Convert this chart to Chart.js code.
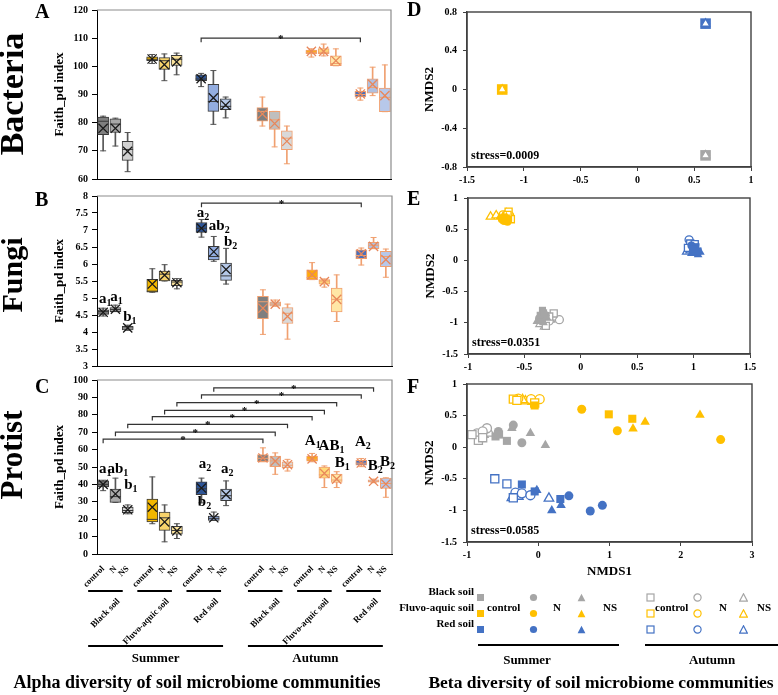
<!DOCTYPE html>
<html>
<head>
<meta charset="utf-8">
<script src="https://cdn.jsdelivr.net/npm/chart.js@4.4.1/dist/chart.umd.min.js"></script>
<style>
  body { margin: 0; background: #fff; }
  #fig { position: relative; width: 778px; height: 695px; overflow: hidden;
         font-family: 'Liberation Serif', 'Times New Roman', serif; font-weight: bold; color: #000; }
  #fig canvas { position: absolute; }
  .txt { position: absolute; white-space: nowrap; line-height: 1; }
  .rot { position: absolute; white-space: nowrap; text-align: center; transform: rotate(-90deg); }
  .mk { position: absolute; width: 9px; height: 9px; }
  .hl { position: absolute; height: 2px; background: #000; }
</style>
</head>
<body>
<div id="fig">
  <canvas id="chartA" width="400" height="190" style="left:0;top:0"></canvas>
  <canvas id="chartB" width="400" height="190" style="left:0;top:186px"></canvas>
  <canvas id="chartC" width="400" height="325" style="left:0;top:370px"></canvas>
  <canvas id="chartD" width="388" height="190" style="left:390px;top:0"></canvas>
  <canvas id="chartE" width="388" height="190" style="left:390px;top:186px"></canvas>
  <canvas id="chartF" width="388" height="213" style="left:390px;top:372px"></canvas>

  <div class="rot" style="left:-88px;top:74px;width:200px;height:40px;line-height:40px;font-size:34px">Bacteria</div>
  <div class="rot" style="left:-88px;top:255px;width:200px;height:40px;line-height:40px;font-size:30px">Fungi</div>
  <div class="rot" style="left:-88px;top:435px;width:200px;height:40px;line-height:40px;font-size:31px">Protist</div>

  <div class="txt" style="left:35px;top:1px;font-size:20px">A</div>
  <div class="txt" style="left:35px;top:189px;font-size:20px">B</div>
  <div class="txt" style="left:35px;top:376px;font-size:20px">C</div>
  <div class="txt" style="left:407px;top:-1px;font-size:20px">D</div>
  <div class="txt" style="left:407px;top:188px;font-size:20px">E</div>
  <div class="txt" style="left:407px;top:376px;font-size:20px">F</div>

  <div id="legend"></div>
  <div class="hl" style="left:478px;top:644px;width:141px"></div>
  <div class="hl" style="left:645px;top:644px;width:133px"></div>
  <div class="txt" style="left:527px;top:653px;font-size:13px;transform:translateX(-50%)">Summer</div>
  <div class="txt" style="left:712px;top:653px;font-size:13px;transform:translateX(-50%)">Autumn</div>
  <div class="txt" style="left:601px;top:674px;font-size:17.5px;transform:translateX(-50%)">Beta diversity of soil microbiome communities</div>
</div>
<script>
'use strict';

// Categories
const seasons = ['Summer', 'Autumn'];
const soils = ['Black soil', 'Fluvo-aquic soil', 'Red soil'];
const treatments = ['control', 'N', 'NS'];

// Box plot values, 18 boxes: Summer black control/N/NS, fluvo-aquic, red, then Autumn in the same order
const bacMin  = [70.0, 71.7, 62.6, 101.0, 94.9, 97.0, 92.8, 79.4, 81.7, 78.8, 71.4, 65.4, 103.3, 103.7, 100.2, 88.0, 89.6, 83.9];
const bacQ1   = [75.7, 76.5, 66.6, 102.0, 98.9, 100.3, 94.9, 84.0, 84.6, 80.5, 77.6, 70.4, 104.5, 104.5, 100.2, 89.1, 90.5, 83.9];
const bacMed  = [80.5, 79.5, 70.5, 102.5, 102.0, 102.5, 95.5, 87.5, 85.8, 84.0, 81.0, 74.5, 105.0, 105.0, 101.0, 90.0, 92.5, 89.0];
const bacQ3   = [82.0, 81.4, 73.4, 103.4, 103.1, 103.9, 97.0, 93.6, 88.5, 85.4, 84.0, 77.1, 105.8, 106.3, 103.7, 91.1, 95.6, 92.3];
const bacMax  = [82.3, 81.6, 76.5, 104.2, 104.4, 104.7, 97.5, 98.5, 89.1, 89.1, 84.0, 78.8, 106.2, 107.9, 106.2, 92.3, 99.7, 100.5];
const bacMean = [78.0, 78.0, 69.8, 102.6, 100.6, 101.6, 95.6, 88.8, 86.2, 83.1, 79.7, 73.4, 105.3, 105.3, 102.0, 90.2, 93.6, 89.6];

const funMin  = [4.47, 4.60, 4.05, 5.17, 5.50, 5.27, 6.79, 6.08, 5.41, 3.93, 4.76, 3.79, 5.54, 5.32, 4.31, 5.97, 6.45, 5.61];
const funQ1   = [4.52, 4.60, 4.06, 5.17, 5.50, 5.36, 6.93, 6.12, 5.52, 4.39, 4.76, 4.25, 5.54, 5.41, 4.59, 6.16, 6.45, 5.92];
const funMed  = [4.60, 4.66, 4.12, 5.20, 5.70, 5.47, 7.05, 6.22, 5.65, 4.89, 4.82, 4.55, 5.60, 5.50, 4.96, 6.25, 6.55, 6.22];
const funQ3   = [4.65, 4.72, 4.17, 5.55, 5.79, 5.52, 7.22, 6.52, 6.03, 5.05, 4.89, 4.72, 5.83, 5.54, 5.29, 6.42, 6.64, 6.37];
const funMax  = [4.70, 4.79, 4.20, 5.86, 5.98, 5.57, 7.31, 6.81, 6.46, 5.24, 4.94, 4.82, 6.04, 5.56, 5.68, 6.47, 6.78, 6.44];
const funMean = [4.58, 4.67, 4.12, 5.41, 5.67, 5.45, 7.05, 6.36, 5.84, 4.70, 4.82, 4.46, 5.69, 5.48, 4.96, 6.30, 6.52, 6.13];

const proMin  = [36.4, 29.7, 23.1, 17.4, 7.0, 8.9, 29.4, 19.3, 27.8, 53.0, 45.8, 47.7, 53.0, 38.2, 38.2, 50.2, 41.0, 32.6];
const proQ1   = [38.6, 29.7, 23.7, 18.4, 13.6, 11.4, 34.1, 19.3, 30.7, 53.0, 50.2, 49.6, 53.4, 43.6, 41.1, 51.0, 41.3, 37.7];
const proMed  = [40.0, 33.0, 25.0, 19.9, 20.8, 13.5, 37.5, 20.5, 33.5, 55.0, 53.5, 51.0, 54.5, 45.5, 42.5, 52.2, 41.8, 40.5];
const proQ3   = [42.0, 37.3, 26.9, 31.6, 24.1, 15.9, 41.5, 21.8, 37.3, 57.2, 56.3, 53.0, 56.3, 50.0, 45.9, 53.8, 42.6, 43.6];
const proMax  = [42.4, 43.6, 28.2, 44.3, 28.2, 17.4, 43.6, 24.1, 42.0, 61.0, 58.1, 54.4, 57.8, 50.6, 47.3, 54.9, 43.0, 43.8];
const proMean = [40.0, 34.5, 25.4, 26.9, 18.4, 13.3, 37.9, 20.8, 34.1, 55.2, 53.4, 51.3, 54.7, 46.4, 43.0, 52.3, 41.8, 40.2];

// Significance brackets: [from box, to box, height]
const bacBrackets = [[6, 15, 110]];
const funBrackets = [[6, 15, 7.79]];
const proBrackets = [[0, 9, 66], [1, 10, 70], [2, 11, 74.5], [3, 12, 79], [4, 13, 82.5], [5, 14, 87], [6, 15, 91.5], [7, 16, 95.5]];

// Letters: [letter, subscript, box, offset in slots, baseline value]
const funLetters = [['a', '1', 0, -0.34, 4.84], ['a', '1', 1, -0.43, 4.90], ['b', '1', 2, -0.37, 4.31],
  ['a', '2', 6, -0.39, 7.38], ['ab', '2', 6, 0.6, 6.99], ['b', '2', 8, -0.17, 6.52]];
const proLetters = [['a', '1', 0, -0.34, 46.8], ['ab', '1', 0, 0.35, 46.8], ['b', '1', 2, -0.29, 37.3],
  ['a', '2', 6, -0.22, 49.2], ['b', '2', 6, -0.3, 27.8], ['a', '2', 8, -0.42, 46.8],
  ['A', '1', 12, -0.59, 62.5], ['AB', '1', 12, 0.53, 60], ['B', '1', 14, -0.16, 50],
  ['A', '2', 15, -0.52, 62.3], ['B', '2', 16, -0.48, 48.1], ['B', '2', 17, -0.47, 50.6]];

// NMDS scores: [NMDS1, NMDS2, group] group 0-2 summer control/N/NS, 3-5 autumn control/N/NS
const bacBlack = [[0.60, -0.68, 0], [0.60, -0.68, 1], [0.60, -0.68, 2], [0.60, -0.68, 3], [0.60, -0.68, 4], [0.60, -0.68, 5]];
const bacFluvo = [[-1.19, 0.00, 0], [-1.19, 0.00, 1], [-1.19, 0.00, 2], [-1.19, 0.00, 3], [-1.19, 0.00, 4], [-1.19, 0.00, 5]];
const bacRed   = [[0.60, 0.68, 0], [0.60, 0.68, 1], [0.60, 0.68, 2], [0.60, 0.68, 3], [0.60, 0.68, 4], [0.60, 0.68, 5]];

const funBlack = [[-0.34, -0.80, 0], [-0.36, -0.88, 0], [-0.33, -0.84, 0], [-0.37, -0.93, 1], [-0.31, -0.88, 1], [-0.35, -0.97, 1],
  [-0.39, -0.98, 2], [-0.33, -1.00, 2], [-0.30, -0.92, 2], [-0.24, -0.85, 3], [-0.31, -1.05, 3], [-0.28, -0.90, 3],
  [-0.19, -0.95, 4], [-0.25, -0.90, 4], [-0.28, -0.97, 4], [-0.32, -1.06, 5], [-0.27, -0.95, 5], [-0.36, -1.02, 5]];
const funFluvo = [[-0.66, 0.68, 0], [-0.68, 0.64, 0], [-0.64, 0.66, 0], [-0.68, 0.63, 1], [-0.70, 0.66, 1], [-0.65, 0.62, 1],
  [-0.72, 0.69, 2], [-0.69, 0.71, 2], [-0.66, 0.70, 2], [-0.64, 0.78, 3], [-0.62, 0.66, 3], [-0.65, 0.73, 3],
  [-0.69, 0.73, 4], [-0.63, 0.72, 4], [-0.67, 0.70, 4], [-0.80, 0.70, 5], [-0.75, 0.72, 5], [-0.66, 0.75, 5]];
const funRed = [[1.02, 0.22, 0], [1.04, 0.15, 0], [0.99, 0.18, 0], [1.00, 0.16, 1], [1.03, 0.12, 1], [0.98, 0.24, 1],
  [1.04, 0.09, 2], [0.98, 0.11, 2], [1.06, 0.13, 2], [0.97, 0.27, 3], [1.01, 0.26, 3], [0.95, 0.20, 3],
  [0.96, 0.33, 4], [0.99, 0.21, 4], [1.01, 0.25, 4], [0.94, 0.14, 5], [1.02, 0.19, 5], [0.97, 0.16, 5]];

const proBlack = [[-0.60, 0.17, 0], [-0.44, 0.10, 0], [-0.55, 0.20, 0], [-0.56, 0.25, 1], [-0.35, 0.35, 1], [-0.23, 0.07, 1],
  [-0.37, 0.30, 2], [-0.11, 0.22, 2], [0.10, 0.03, 2], [-0.84, 0.11, 3], [-0.93, 0.20, 3], [-0.78, 0.15, 3],
  [-0.86, 0.22, 4], [-0.72, 0.30, 4], [-0.78, 0.25, 4], [-0.77, 0.20, 5], [-0.80, 0.17, 5], [-0.68, 0.22, 5]];
const proFluvo = [[0.99, 0.52, 0], [1.32, 0.45, 0], [-0.05, 0.66, 0], [0.61, 0.60, 1], [1.11, 0.26, 1], [2.56, 0.12, 1],
  [1.33, 0.29, 2], [1.50, 0.40, 2], [2.27, 0.51, 2], [-0.35, 0.76, 3], [-0.30, 0.74, 3], [-0.05, 0.70, 3],
  [-0.28, 0.77, 4], [-0.10, 0.76, 4], [0.02, 0.76, 4], [-0.18, 0.73, 5], [-0.08, 0.72, 5], [-0.22, 0.75, 5]];
const proRed = [[-0.23, -0.59, 0], [0.31, -0.82, 0], [-0.05, -0.70, 0], [0.43, -0.77, 1], [0.73, -1.01, 1], [0.90, -0.92, 1],
  [-0.02, -0.68, 2], [0.19, -1.00, 2], [0.32, -0.92, 2], [-0.61, -0.50, 3], [-0.44, -0.58, 3], [-0.35, -0.80, 3],
  [-0.32, -0.72, 4], [-0.23, -0.73, 4], [-0.11, -0.76, 4], [-0.37, -0.80, 5], [-0.28, -0.78, 5], [0.15, -0.81, 5]];

// Styles
const serif = "'Liberation Serif', 'Times New Roman', serif";
const boxFill = ['#7f7f7f', '#a9a9a9', '#d0d0d0', '#f2b700', '#f7d36b', '#fbe39b', '#2e5597', '#93ade0', '#b4c7e7',
  '#7f7f7f', '#bfbfbf', '#d9d9d9', '#ffab09', '#ffd978', '#ffe7a6', '#4a6fba', '#b0c0e0', '#b7c8ea'];
const darkLine = '#3a3a3a';
const orangeLine = '#f0a070';
const boxBorder = boxFill.map((c, i) => i < 9 ? darkLine : orangeLine);
const meanColor = boxFill.map((c, i) => i < 9 ? '#1a1a1a' : '#e8875a');
const soilColors = ['#a6a6a6', '#ffc000', '#4472c4'];
const markerShapes = ['rect', 'circle', 'triangle', 'rect', 'circle', 'triangle'];

Chart.defaults.font.family = serif;
Chart.defaults.font.weight = 'bold';
Chart.defaults.color = '#000';
Chart.defaults.animation = false;

// category slots: gaps between soils and a double gap between seasons
let slotLabels = [];
let boxSlots = [];
seasons.forEach((season, s) => {
  if (s > 0) slotLabels.push('', '');
  soils.forEach((soil, k) => {
    if (k > 0) slotLabels.push('');
    treatments.forEach(t => { boxSlots.push(slotLabels.length); slotLabels.push(t); });
  });
});

function toSlots(values) {
  let out = new Array(slotLabels.length).fill(null);
  boxSlots.forEach((slot, i) => { out[slot] = values[i]; });
  return out;
}

// plain tick text: 3, 3.5, 4 ... instead of 3.0, 3.5, 4.0
const plainTick = v => String(Number(v.toFixed(2)));

function boxDatasets(min, q1, med, q3, max, mean) {
  const whiskerColor = boxBorder.map((c, i) => i < 9 ? '#555' : orangeLine);
  const capStyle = { type: 'line', showLine: false, pointStyle: 'line', pointRadius: 3, pointBorderWidth: 1,
    pointBorderColor: toSlots(whiskerColor), order: 4 };
  return [
    { type: 'line', data: toSlots(mean), showLine: false, pointStyle: 'crossRot', pointRadius: 6.5,
      pointBorderWidth: 1.3, pointBorderColor: toSlots(meanColor), order: 1 },
    { type: 'line', data: toSlots(med), showLine: false, pointStyle: 'line', pointRadius: 5.5,
      pointBorderWidth: 1, pointBorderColor: toSlots(boxBorder), order: 2 },
    { type: 'bar', data: toSlots(q1.map((v, i) => [v, q3[i]])), backgroundColor: toSlots(boxFill),
      borderColor: toSlots(boxBorder), borderWidth: 1, borderSkipped: false, barThickness: 11, grouped: false, order: 3 },
    Object.assign({ data: toSlots(max) }, capStyle),
    Object.assign({ data: toSlots(min) }, capStyle),
    { type: 'bar', data: toSlots(min.map((v, i) => [v, max[i]])), backgroundColor: toSlots(whiskerColor),
      barThickness: 1, grouped: false, order: 5 }
  ];
}

function decor(extra) {
  return {
    id: 'decor',
    afterDraw(chart) {
      const ctx = chart.ctx, a = chart.chartArea;
      const x = chart.scales.x, y = chart.scales.y;
      ctx.save();
      if (extra.frame === 'box') {
        ctx.strokeStyle = '#8c8c8c'; ctx.lineWidth = 1.2;
        ctx.beginPath(); ctx.moveTo(a.left, a.top); ctx.lineTo(a.right, a.top); ctx.lineTo(a.right, a.bottom); ctx.stroke();
      } else {
        ctx.strokeStyle = '#404040'; ctx.lineWidth = 1.4;
        ctx.strokeRect(a.left, a.top, a.right - a.left, a.bottom - a.top);
      }
      ctx.fillStyle = '#000';
      ctx.strokeStyle = '#333'; ctx.lineWidth = 1.2;
      (extra.brackets || []).forEach(([from, to, v]) => {
        const x1 = x.getPixelForValue(boxSlots[from]), x2 = x.getPixelForValue(boxSlots[to]), yy = y.getPixelForValue(v);
        ctx.beginPath(); ctx.moveTo(x1, yy + 4); ctx.lineTo(x1, yy); ctx.lineTo(x2, yy); ctx.lineTo(x2, yy + 4); ctx.stroke();
        ctx.font = 'bold 11px ' + serif; ctx.textAlign = 'center'; ctx.textBaseline = 'alphabetic';
        ctx.fillText('*', (x1 + x2) / 2, yy + 4);
      });
      const slotW = x.getPixelForValue(1) - x.getPixelForValue(0);
      (extra.letters || []).forEach(([main, sub, box, dx, v]) => {
        const px = x.getPixelForValue(boxSlots[box]) + dx * slotW, py = y.getPixelForValue(v);
        ctx.textAlign = 'left'; ctx.textBaseline = 'alphabetic';
        ctx.font = 'bold 15px ' + serif;
        ctx.fillText(main, px, py);
        const w = ctx.measureText(main).width;
        ctx.font = 'bold 10px ' + serif;
        ctx.fillText(sub, px + w, py + 3);
      });
      if (extra.stress) {
        ctx.font = 'bold 12px ' + serif; ctx.textAlign = 'left'; ctx.textBaseline = 'alphabetic';
        ctx.fillText(extra.stress, a.left + 4, a.bottom - 8);
      }
      if (extra.groups) {
        const soilY = a.bottom + 37, seasonY = a.bottom + 92;
        ctx.strokeStyle = '#000'; ctx.lineWidth = 2;
        seasons.forEach((season, s) => {
          soils.forEach((soil, k) => {
            const first = x.getPixelForValue(boxSlots[s * 9 + k * 3]);
            const last = x.getPixelForValue(boxSlots[s * 9 + k * 3 + 2]);
            ctx.beginPath(); ctx.moveTo(first - 15, soilY); ctx.lineTo(last - 5, soilY); ctx.stroke();
            ctx.save();
            ctx.translate(last - 9, soilY + 9);
            ctx.rotate(-Math.PI / 4);
            ctx.font = 'bold 9px ' + serif; ctx.textAlign = 'right'; ctx.textBaseline = 'middle';
            ctx.fillText(soil, 0, 0);
            ctx.restore();
          });
          const x1 = x.getPixelForValue(boxSlots[s * 9]) - 15, x2 = x.getPixelForValue(boxSlots[s * 9 + 8]) - 3;
          ctx.beginPath(); ctx.moveTo(x1, seasonY); ctx.lineTo(x2, seasonY); ctx.stroke();
          ctx.font = 'bold 13px ' + serif; ctx.textAlign = 'center'; ctx.textBaseline = 'middle';
          ctx.fillText(season, (x1 + x2) / 2, seasonY + 13);
        });
        ctx.font = 'bold 18px ' + serif; ctx.textAlign = 'center'; ctx.textBaseline = 'middle';
        ctx.fillText('Alpha diversity of soil microbiome communities', 197, seasonY + 37);
      }
      ctx.restore();
    }
  };
}

function makeBoxChart(id, sets, yMin, yMax, step, pad, xHeight, showTicks, extra) {
  return new Chart(document.getElementById(id), {
    type: 'bar',
    data: { labels: slotLabels, datasets: boxDatasets(...sets) },
    options: {
      responsive: false, events: [],
      layout: { padding: pad },
      plugins: { legend: { display: false }, tooltip: { enabled: false } },
      scales: {
        x: {
          grid: { display: false }, border: { color: '#000' },
          ticks: { display: showTicks, autoSkip: false, minRotation: 45, maxRotation: 45, padding: 2,
            font: { size: 8.5, weight: 'bold' } },
          afterFit: s => { s.height = xHeight; }
        },
        y: {
          min: yMin, max: yMax,
          ticks: { stepSize: step, padding: 4, font: { size: 10, weight: 'bold' }, callback: plainTick },
          grid: { drawOnChartArea: false, tickLength: 5, color: '#000' },
          border: { color: '#000' },
          title: { display: true, text: 'Faith_pd index', font: { size: 13, weight: 'bold' }, padding: { top: 2, bottom: 0 } },
          afterFit: s => { s.width = 47; }
        }
      }
    },
    plugins: [decor(extra)]
  });
}

function nmdsDatasets(black, fluvo, red, radius, order) {
  const bySoil = [black, fluvo, red];
  return markerShapes.map((shape, g) => {
    let pts = [], colors = [];
    bySoil.forEach((arr, k) => arr.filter(p => p[2] === g).forEach(p => {
      pts.push({ x: p[0], y: p[1] }); colors.push(soilColors[k]);
    }));
    const hollow = g >= 3;
    return { data: pts, pointStyle: shape, pointRadius: radius[g],
      pointBackgroundColor: hollow ? '#fff' : colors, pointBorderColor: colors,
      pointBorderWidth: hollow ? 1.3 : 0, order: order[g] };
  });
}

function makeNmdsChart(id, sets, xr, yr, pad, xHeight, xTitle, stress) {
  const axisFont = { size: 10, weight: 'bold' };
  return new Chart(document.getElementById(id), {
    type: 'scatter',
    data: { datasets: sets },
    options: {
      responsive: false, events: [],
      layout: { padding: pad },
      plugins: { legend: { display: false }, tooltip: { enabled: false } },
      scales: {
        x: {
          type: 'linear', min: xr[0], max: xr[1],
          ticks: { stepSize: xr[2], padding: 3, font: axisFont, callback: plainTick },
          grid: { drawOnChartArea: false, tickLength: 4, color: '#404040' },
          border: { color: '#404040', width: 1.4 },
          title: { display: !!xTitle, text: xTitle, font: { size: 13, weight: 'bold' }, padding: { top: 0, bottom: 6 } },
          afterFit: s => { s.height = xHeight; }
        },
        y: {
          min: yr[0], max: yr[1],
          ticks: { stepSize: yr[2], padding: 6, font: axisFont, callback: plainTick },
          grid: { drawOnChartArea: false, tickLength: 4, color: '#404040' },
          border: { color: '#404040', width: 1.4 },
          title: { display: true, text: 'NMDS2', font: { size: 13, weight: 'bold' }, padding: { top: 2, bottom: 0 } },
          afterFit: s => { s.width = 47; }
        }
      }
    },
    plugins: [decor({ frame: 'full', stress: stress })]
  });
}

makeBoxChart('chartA', [bacMin, bacQ1, bacMed, bacQ3, bacMax, bacMean], 60, 120, 10,
  { top: 4, left: 50, right: 9, bottom: 0 }, 11, false, { frame: 'box', brackets: bacBrackets });
makeBoxChart('chartB', [funMin, funQ1, funMed, funQ3, funMax, funMean], 3, 8, 0.5,
  { top: 6, left: 50, right: 8, bottom: 0 }, 10, false, { frame: 'box', brackets: funBrackets, letters: funLetters });
makeBoxChart('chartC', [proMin, proQ1, proMed, proQ3, proMax, proMean], 0, 100, 10,
  { top: 8, left: 50, right: 8, bottom: 101 }, 40, true, { frame: 'box', brackets: proBrackets, letters: proLetters, groups: true });

makeNmdsChart('chartD', nmdsDatasets(bacBlack, bacFluvo, bacRed, [7.5, 4, 4, 4, 4, 4.8], [1, 3, 4, 5, 6, 0]),
  [-1.5, 1, 0.5], [-0.8, 0.8, 0.4], { top: 4, left: 30, right: 27, bottom: 0 }, 23, '', 'stress=0.0009');
makeNmdsChart('chartE', nmdsDatasets(funBlack, funFluvo, funRed, [5, 4, 5, 5, 4, 5], [0, 1, 2, 3, 4, 5]),
  [-1, 1.5, 0.5], [-1.5, 1, 0.5], { top: 5, left: 31, right: 28, bottom: 0 }, 22, '', 'stress=0.0351');
makeNmdsChart('chartF', nmdsDatasets(proBlack, proFluvo, proRed, [5.7, 4.5, 5.5, 5.7, 4.5, 5.5], [0, 1, 2, 3, 4, 5]),
  [-1, 3, 1], [-1.5, 1, 0.5], { top: 7, left: 30, right: 26, bottom: 0 }, 43, 'NMDS1', 'stress=0.0585');

// Legend for the NMDS panels
const legendRowY = [592, 608, 624];
const legendColX = [480, 533, 581, 650, 697, 743];
function markerSvg(shape, color, hollow) {
  const fill = hollow ? '#fff' : color, sw = hollow ? 1.2 : 0;
  let body;
  if (shape === 'rect') body = `<rect x="1" y="1" width="7" height="7" fill="${fill}" stroke="${color}" stroke-width="${sw}"/>`;
  else if (shape === 'circle') body = `<circle cx="4.5" cy="4.5" r="3.6" fill="${fill}" stroke="${color}" stroke-width="${sw}"/>`;
  else body = `<polygon points="4.5,0.8 8.4,8.2 0.6,8.2" fill="${fill}" stroke="${color}" stroke-width="${sw}"/>`;
  return `<svg viewBox="0 0 9 9" width="9" height="9">${body}</svg>`;
}
let html = '';
soils.forEach((soil, k) => {
  html += `<div class="txt" style="right:${778 - 474}px;top:${legendRowY[k] - 6}px;font-size:11px">${soil}</div>`;
  markerShapes.forEach((shape, g) => {
    html += `<div class="mk" style="left:${legendColX[g] - 4.5}px;top:${legendRowY[k] - 4.5}px">${markerSvg(shape, soilColors[k], g >= 3)}</div>`;
  });
});
const legendWords = [['control', 487], ['N', 553], ['NS', 603], ['control', 655], ['N', 719], ['NS', 757]];
legendWords.forEach(([w, lx]) => {
  html += `<div class="txt" style="left:${lx}px;top:${legendRowY[1] - 6}px;font-size:11px">${w}</div>`;
});
document.getElementById('legend').innerHTML = html;
</script>
</body>
</html>
